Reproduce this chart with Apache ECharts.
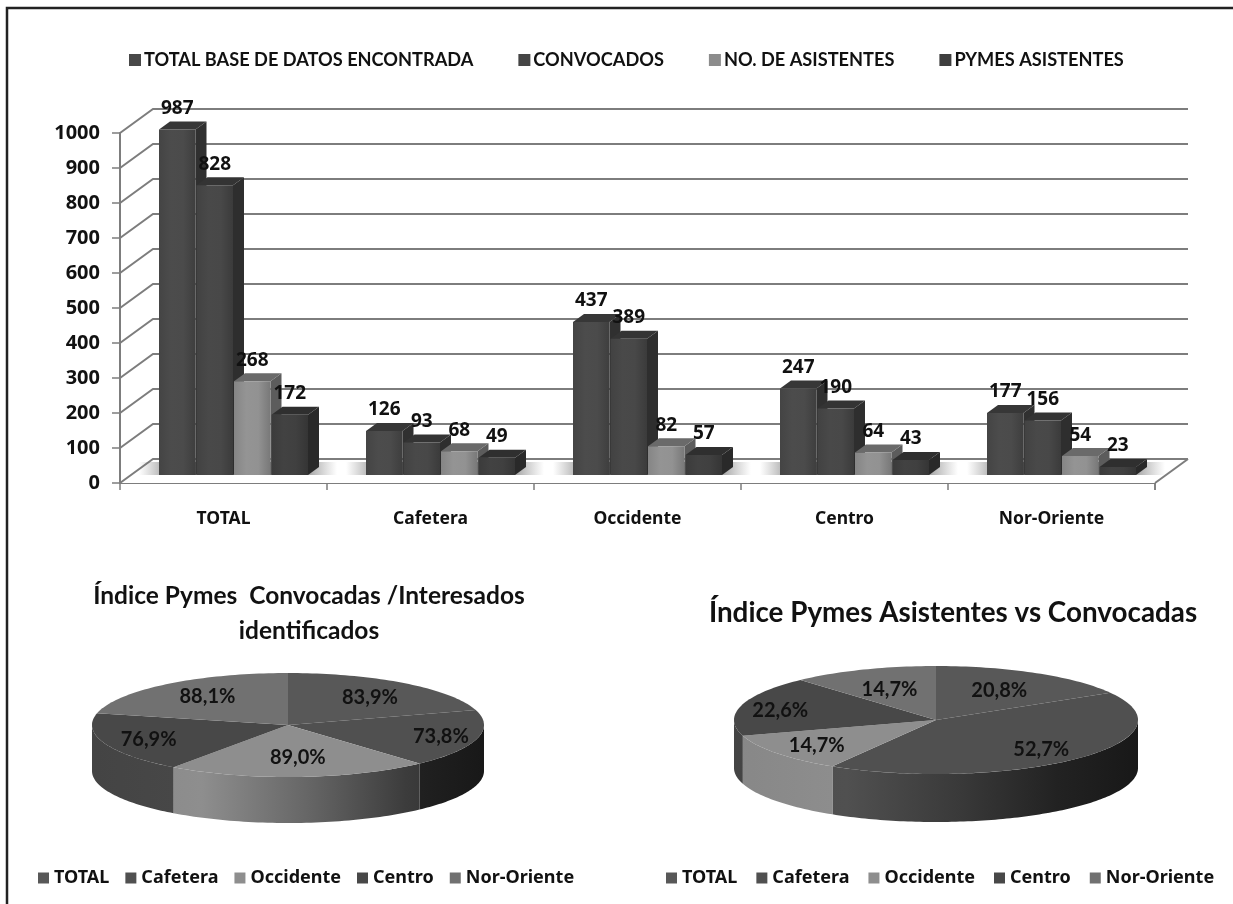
<!DOCTYPE html>
<html><head><meta charset="utf-8">
<style>html,body{margin:0;padding:0;background:#fff}#c{width:1233px;height:904px}</style>
<script src="https://cdn.jsdelivr.net/npm/echarts@6/dist/echarts.min.js"></script>
</head><body><div id="c"></div>
<script>
const categories = ['TOTAL','Cafetera','Occidente','Centro','Nor-Oriente'];
const seriesNames = ['TOTAL BASE DE DATOS ENCONTRADA','CONVOCADOS','NO. DE ASISTENTES','PYMES ASISTENTES'];
const totalBase = [987,126,437,247,177];
const convocados = [828,93,389,190,156];
const asistentes = [268,68,82,64,54];
const pymes = [172,49,57,43,23];
const yTicks = [0,100,200,300,400,500,600,700,800,900,1000];
const pieCategories = categories;
const pieOneValues = [83.9,73.8,89.0,76.9,88.1];
const pieTwoValues = [20.8,52.7,14.7,22.6,14.7];
const pieOneTitle = 'Índice Pymes  Convocadas /Interesados\nidentificados';
const pieTwoTitle = 'Índice Pymes Asistentes vs Convocadas';

// styles
const barColors = ['#484848','#454545','#8c8c8c','#3e3e3e'];
const pieColors = ['#585858','#505050','#8e8e8e','#484848','#717171'];
const FONT = 'Lato';
const NUM = '"Noto Sans"';
const wall = {dx:33, dy:-24};
const barDepth = {dx:11, dy:-8};
const floorInset = 8;
const barW = 37.5;
const pieOneGeo = {cx:288, cy:725, rx:196, ry:52, d:46, lab:[[.70,.67],[.81,.79],[.9,.63],[.76,.82],[.66,.69]]};
const pieTwoGeo = {cx:936, cy:720, rx:202, ry:54, d:48, lab:[[.63,.62],[.74,.76],[.75,.78],[.8,.64],[.64,.6]]};

function shade(hex,f){
  const n=parseInt(hex.slice(1),16);
  const c=s=>Math.max(0,Math.min(255,Math.round(((n>>s)&255)*f)));
  return 'rgb('+c(16)+','+c(8)+','+c(0)+')';
}
function lg(x0,y0,x1,y1,stops){
  return new echarts.graphic.LinearGradient(x0,y0,x1,y1,stops.map((c,i)=>({offset:i/(stops.length-1),color:c})));
}

// back wall, floor and gridlines
function renderWall(p,api){
  const v=api.value(0);
  const a=api.coord([0,v]);
  const x0=p.coordSys.x, x1=x0+p.coordSys.width;
  const line='#7d7d7d';
  const ch=[];
  if(v===0){
    const yb=p.coordSys.y+p.coordSys.height;
    ch.push({type:'polygon',shape:{points:[[x0,yb],[x1,yb],[x1+wall.dx,yb+wall.dy],[x0+wall.dx,yb+wall.dy]]},style:{fill:'#fff'}});
    ch.push({type:'polyline',shape:{points:[[x1,yb],[x1+wall.dx,yb+wall.dy]]},style:{stroke:line,lineWidth:2,fill:null}});
    ch.push({type:'line',shape:{x1:x1,y1:yb,x2:x1,y2:yb+7},style:{stroke:line,lineWidth:1.5}});
  }
  ch.push({type:'polyline',shape:{points:[[x0,a[1]],[x0+wall.dx,a[1]+wall.dy],[x1+wall.dx,a[1]+wall.dy]]},style:{stroke:line,lineWidth:2,fill:null}});
  return {type:'group',children:ch};
}
// soft floor shadow below each category group
function renderFloorShadow(p,api){
  const c=api.coord([api.value(0),0]);
  const left=c[0]-64.5, w=barW*4;
  const y=c[1]-floorInset;
  return {type:'rect',shape:{x:left-20,y:y-13,width:w+48,height:13},
    style:{fill:lg(0,0,1,0,['rgba(110,110,110,0)','rgba(80,80,80,.8)','rgba(80,80,80,.8)','rgba(80,80,80,.8)','rgba(90,90,90,.8)','rgba(120,120,120,0)'])}};
}
function bar3d(idx){
  return function(p,api){
    const cat=api.value(0), v=api.value(1);
    const base=api.coord([cat,0]), top=api.coord([cat,v]);
    const x0=base[0]-64.5+idx*barW, x1=x0+barW-1;
    const yb=base[1]-floorInset, yt=top[1]-floorInset;
    const d=barDepth, col=barColors[idx];
    return {type:'group',children:[
      {type:'polygon',shape:{points:[[x1,yb],[x1+d.dx,yb+d.dy],[x1+d.dx,yt+d.dy],[x1,yt]]},style:{fill:shade(col,.66)}},
      {type:'polygon',shape:{points:[[x0,yt],[x1,yt],[x1+d.dx,yt+d.dy],[x0+d.dx,yt+d.dy]]},style:{fill:shade(col,.76)}},
      {type:'rect',shape:{x:x0,y:yt,width:x1-x0,height:yb-yt},style:{fill:lg(0,0,1,0,[shade(col,.95),shade(col,1.06),shade(col,1.04),shade(col,.86)])}},
      {type:'text',z2:50,style:{text:String(v),x:(x0+x1)/2,y:yt-21,align:'center',verticalAlign:'middle',fill:'#111',font:'bold 19px '+NUM}}
    ]};
  };
}
const A=2*Math.PI;
function pieSlice(geo,values,i){
  return function(){
    const total=values.reduce((a,b)=>a+b,0);
    let cum=0; for(let k=0;k<i;k++) cum+=values[k];
    const a0=cum/total*A, a1=(cum+values[i])/total*A;
    const P=a=>[geo.cx+geo.rx*Math.sin(a),geo.cy-geo.ry*Math.cos(a)];
    const steps=Math.max(8,Math.ceil((a1-a0)*40));
    const top=[[geo.cx,geo.cy]];
    for(let s=0;s<=steps;s++) top.push(P(a0+(a1-a0)*s/steps));
    const ch=[];
    const from=Math.max(a0,Math.PI/2), to=Math.min(a1,3*Math.PI/2);
    if(to>from){
      const u=[],l=[];
      for(let s=0;s<=steps;s++){const q=P(from+(to-from)*s/steps);u.push(q);l.unshift([q[0],q[1]+geo.d]);}
      const col=pieColors[i];
      const grad=new echarts.graphic.LinearGradient(geo.cx-geo.rx,0,geo.cx+geo.rx,0,[
        {offset:0,color:shade(col,.95)},{offset:.28,color:shade(col,1)},{offset:.55,color:shade(col,.72)},{offset:.8,color:shade(col,.42)},{offset:1,color:shade(col,.3)}],true);
      ch.push({type:'polygon',shape:{points:u.concat(l)},style:{fill:grad}});
    }
    ch.push({type:'polygon',z2:5,shape:{points:top},style:{fill:pieColors[i]}});
    const mid=(a0+a1)/2, f=geo.lab[i];
    ch.push({type:'text',z2:60,style:{text:values[i].toFixed(1).replace('.',',')+'%',
      x:geo.cx+geo.rx*f[0]*Math.sin(mid),y:geo.cy-geo.ry*f[1]*Math.cos(mid),
      align:'center',verticalAlign:'middle',fill:'#111',font:'bold 20px '+FONT}});
    return {type:'group',children:ch};
  };
}
const barData=[totalBase,convocados,asistentes,pymes];
const series=[
  {type:'custom',name:'wall',silent:true,z:1,coordinateSystem:'cartesian2d',renderItem:renderWall,encode:{y:0},data:yTicks.map(v=>[v])},
  {type:'custom',name:'shadow',silent:true,z:2,coordinateSystem:'cartesian2d',renderItem:renderFloorShadow,encode:{x:0},data:categories.map((c,i)=>[i])}
];
seriesNames.forEach((n,k)=>{
  series.push({type:'custom',name:n,z:3+k,coordinateSystem:'cartesian2d',renderItem:bar3d(k),itemStyle:{color:barColors[k]},
    encode:{x:0,y:1},data:barData[k].map((v,i)=>[i,v])});
});
[[pieOneGeo,pieOneValues],[pieTwoGeo,pieTwoValues]].forEach(([g,vals])=>{
  vals.forEach((v,i)=>{
    series.push({type:'custom',name:pieCategories[i],coordinateSystem:'none',z:10,renderItem:pieSlice(g,vals,i),itemStyle:{color:pieColors[i]},data:[[v]]});
  });
});
const chart=echarts.init(document.getElementById('c'),null,{renderer:'canvas'});
const legendText={fontFamily:FONT,fontWeight:'bold',color:'#111'};
const pieLegendText={fontFamily:NUM,fontWeight:'bold',color:'#111',fontSize:18};
chart.setOption({
  animation:false,backgroundColor:'#fff',
  graphic:[{type:'polyline',silent:true,shape:{points:[[7,904],[7,8],[1233,8]]},style:{stroke:'#222',lineWidth:2.5,fill:null}}],
  title:[
    {text:pieOneTitle,left:304,top:574,textAlign:'center',textStyle:{fontFamily:FONT,fontWeight:'bold',fontSize:24.5,lineHeight:35,color:'#111'}},
    {text:pieTwoTitle,left:948,top:594,textAlign:'center',textStyle:{fontFamily:FONT,fontWeight:'bold',fontSize:27.8,color:'#111'}}
  ],
  legend:[
    {data:seriesNames,left:124,top:46,icon:'rect',itemWidth:12,itemHeight:12,itemGap:45,textStyle:{...legendText,fontSize:18.2,padding:[0,0,0,-2]}},
    {data:pieCategories,left:33,top:864,icon:'rect',itemWidth:11,itemHeight:11,itemGap:16,textStyle:pieLegendText},
    {data:pieCategories,left:661,top:864,icon:'rect',itemWidth:11,itemHeight:11,itemGap:19,textStyle:pieLegendText}
  ],
  grid:{left:120,right:78,top:133,bottom:421,containLabel:false},
  xAxis:{type:'category',data:categories,axisTick:{show:true,length:7,alignWithLabel:false,lineStyle:{color:'#7d7d7d',width:1.5}},
    axisLine:{lineStyle:{color:'#7d7d7d',width:2}},axisLabel:{margin:27,fontFamily:NUM,fontWeight:'bold',fontSize:17.5,color:'#111'}},
  yAxis:{type:'value',min:0,max:1000,interval:100,splitLine:{show:false},
    axisLine:{show:true,lineStyle:{color:'#7d7d7d',width:2}},axisTick:{show:true,length:8,lineStyle:{color:'#7d7d7d',width:1.5}},
    axisLabel:{margin:20,fontFamily:NUM,fontWeight:'bold',fontSize:20,color:'#111',formatter:v=>String(v)}},
  series:series
});
</script></body></html>
